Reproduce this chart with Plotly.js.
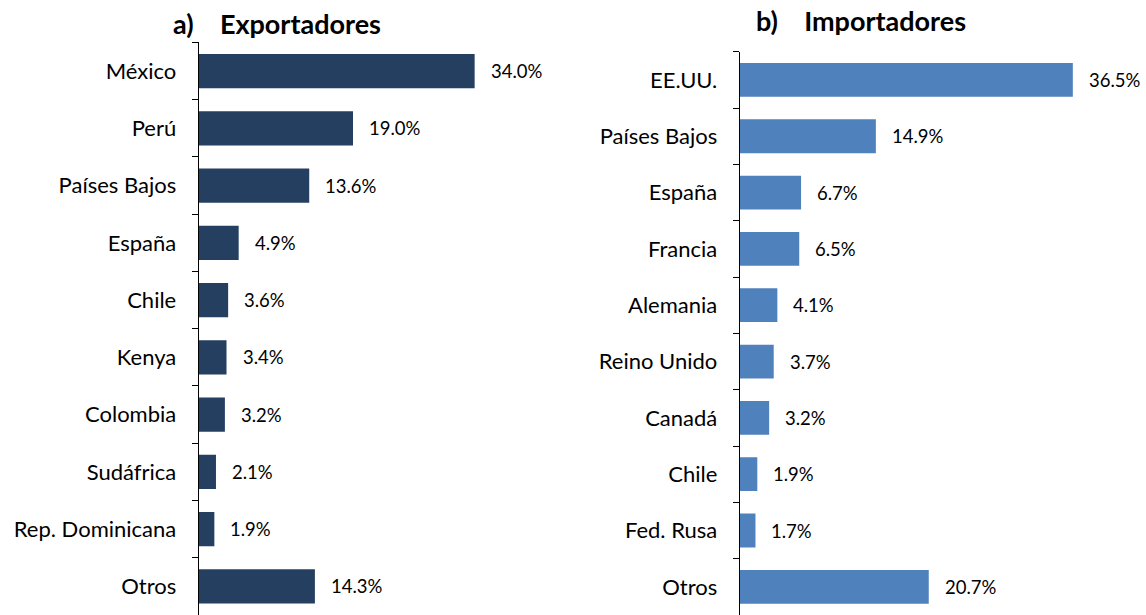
<!DOCTYPE html>
<html><head><meta charset="utf-8">
<script src="https://cdn.plot.ly/plotly-3.0.1.min.js"></script>
<style>html,body{margin:0;padding:0;background:#fff;}#c{width:1146px;height:615px;}</style>
</head><body><div id="c"></div>
<script>
const expCats = ["México","Perú","Países Bajos","España","Chile","Kenya","Colombia","Sudáfrica","Rep. Dominicana","Otros"];
const expVals = [34.0,19.0,13.6,4.9,3.6,3.4,3.2,2.1,1.9,14.3];
const impCats = ["EE.UU.","Países Bajos","España","Francia","Alemania","Reino Unido","Canadá","Chile","Fed. Rusa","Otros"];
const impVals = [36.5,14.9,6.7,6.5,4.1,3.7,3.2,1.9,1.7,20.7];
const titleA = "a)\u00a0\u00a0\u00a0\u00a0Exportadores";
const titleB = "b)\u00a0\u00a0\u00a0\u00a0Importadores";

const FONT = "Lato, 'Open Sans', sans-serif";
const traces = [
  {type:'bar', orientation:'h', x:expVals, y:expCats, xaxis:'x', yaxis:'y',
   marker:{color:'#243F60'}, width:0.6, hoverinfo:'none'},
  {type:'bar', orientation:'h', x:impVals, y:impCats, xaxis:'x2', yaxis:'y2',
   marker:{color:'#4F81BD'}, width:0.6, hoverinfo:'none'}
];
const annotations = [];
expVals.forEach((v,i)=>annotations.push({x:v,y:expCats[i],xref:'x',yref:'y',text:v.toFixed(1)+'%',
  showarrow:false,xanchor:'left',xshift:14,font:{family:FONT,size:18.5,color:'#000'}}));
impVals.forEach((v,i)=>annotations.push({x:v,y:impCats[i],xref:'x2',yref:'y2',text:v.toFixed(1)+'%',
  showarrow:false,xanchor:'left',xshift:14,font:{family:FONT,size:18.5,color:'#000'}}));
annotations.push({x:0.242,y:0.962,xref:'paper',yref:'paper',text:'<b>'+titleA+'</b>',showarrow:false,
  xanchor:'center',yanchor:'middle',font:{family:FONT,size:27,color:'#000'}});
annotations.push({x:0.751,y:0.966,xref:'paper',yref:'paper',text:'<b>'+titleB+'</b>',showarrow:false,
  xanchor:'center',yanchor:'middle',font:{family:FONT,size:27,color:'#000'}});

const yax = (dom)=>({domain:dom, autorange:'reversed', type:'category', showline:true, linecolor:'#000', linewidth:1.3,
  ticks:'outside', ticklen:6, tickcolor:'#000', tickson:'boundaries', ticklabelstandoff:17,
  tickfont:{family:FONT,size:22,color:'#000'}, showgrid:false, zeroline:false});
const xax = (dom,rng)=>({domain:dom, range:rng, showticklabels:false, showgrid:false, zeroline:false, showline:false, ticks:''});

const layout = {
  width:1146, height:615, margin:{l:0,r:0,t:0,b:0}, showlegend:false,
  paper_bgcolor:'#fff', plot_bgcolor:'#fff', bargap:0.4,
  xaxis: xax([0.1736,0.492],[0,45]),
  yaxis: Object.assign(yax([0,0.931]),{anchor:'x'}),
  xaxis2: xax([0.6457,0.964],[0,40]),
  yaxis2: Object.assign(yax([0,0.9158]),{anchor:'x2'}),
  annotations: annotations
};
layout.xaxis.anchor='y'; layout.xaxis2.anchor='y2';
Plotly.newPlot('c', traces, layout, {displayModeBar:false, staticPlot:true});
</script></body></html>
